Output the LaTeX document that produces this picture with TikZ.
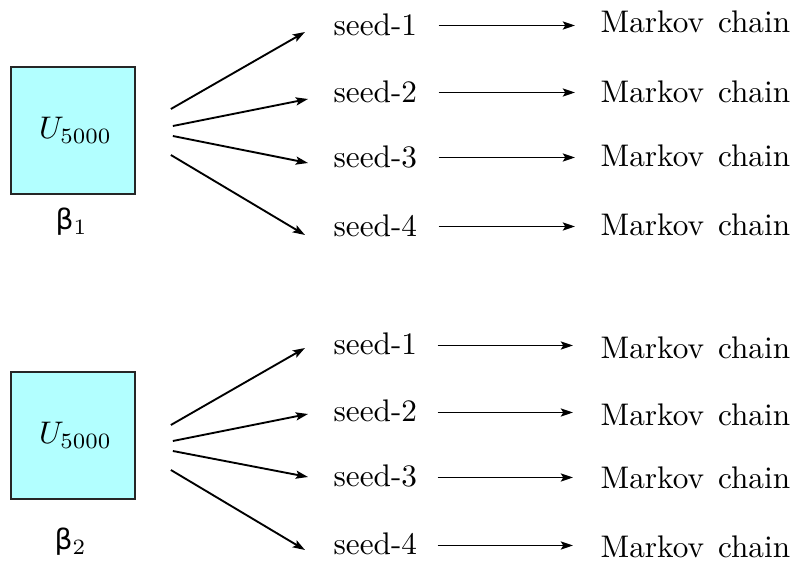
\documentclass[tikz,border=0pt]{standalone}
\usepackage{fontspec}
\newfontfamily\greeksans{DejaVu Sans}
\usetikzlibrary{arrows.meta,calc}
\definecolor{boxfill}{RGB}{178,255,255}
\tikzset{
  ubox/.style={draw=black!85, fill=boxfill, line width=0.55pt,
    minimum width=39.7pt, minimum height=40.6pt, inner sep=0pt},
  lbl/.style={inner sep=0pt, anchor=base west, font=\fontsize{10}{12}\selectfont},
  betalbl/.style={inner sep=0pt, anchor=base west},
  arr/.style={-{Stealth[length=3.9pt,width=2.6pt,inset=0.8pt]}, line width=0.6pt},
}
\newcommand{\mchain}{Markov\hspace{4.5pt}chain}
\newcommand{\ufive}{\hspace{1.6pt}$U_{5000}$}
\begin{document}
\begin{tikzpicture}[x=0.32pt,y=-0.32pt]
\useasboundingbox (0,0) rectangle (795,563);

% ---------- first run: beta_1 ----------
\node[ubox] (b1) at (73,130.5) {\ufive};
\node[betalbl] (beta1) at (55,230) {{\greeksans\fontsize{9}{10}\selectfont β}$_1$};

\node[lbl] (s11) at (333,36)  {seed-1};
\node[lbl] (s12) at (333,103) {seed-2};
\node[lbl] (s13) at (333,168) {seed-3};
\node[lbl] (s14) at (333,237) {seed-4};

\node[lbl] (m11) at (600,33)  {\mchain};
\node[lbl] (m12) at (600,103) {\mchain};
\node[lbl] (m13) at (600,167) {\mchain};
\node[lbl] (m14) at (600,236) {\mchain};

\draw[arr] ($(b1.east)+(35,-21.5)$) -- ($(s11.base west)+(-28,-4)$);
\draw[arr] ($(b1.east)+(37,-4.5)$)  -- ($(s12.base west)+(-25,-4)$);
\draw[arr] ($(b1.east)+(37,5.5)$)   -- ($(s13.base west)+(-25,-5)$);
\draw[arr] ($(b1.east)+(35,24.5)$)  -- ($(s14.base west)+(-28,-2)$);

\foreach \k in {1,2,3,4}{
  \draw[arr] ($(s1\k.base east)+(21,-10.5)$) -- ($(m1\k.base west |- s1\k.base east)+(-25,-10.5)$);
}

% ---------- second run: beta_2 ----------
\node[ubox] (b2) at (73,435.5) {\ufive};
\node[betalbl] (beta2) at (54,550) {{\greeksans\fontsize{9}{10}\selectfont β}$_2$};

\node[lbl] (s21) at (333,355) {seed-1};
\node[lbl] (s22) at (333,422) {seed-2};
\node[lbl] (s23) at (333,487) {seed-3};
\node[lbl] (s24) at (333,555) {seed-4};

\node[lbl] (m21) at (600,359) {\mchain};
\node[lbl] (m22) at (600,426) {\mchain};
\node[lbl] (m23) at (600,489) {\mchain};
\node[lbl] (m24) at (600,558) {\mchain};

\draw[arr] ($(b2.east)+(35,-10.5)$) -- ($(s21.base west)+(-28,-7)$);
\draw[arr] ($(b2.east)+(37,5.5)$)   -- ($(s22.base west)+(-25,-8)$);
\draw[arr] ($(b2.east)+(37,15.5)$)  -- ($(s23.base west)+(-25,-10)$);
\draw[arr] ($(b2.east)+(35,34.5)$)  -- ($(s24.base west)+(-28,-5)$);

\foreach \k in {1,2,3,4}{
  \draw[arr] ($(s2\k.base east)+(20,-9.5)$) -- ($(m2\k.base west |- s2\k.base east)+(-27,-9.5)$);
}
\end{tikzpicture}
\end{document}
